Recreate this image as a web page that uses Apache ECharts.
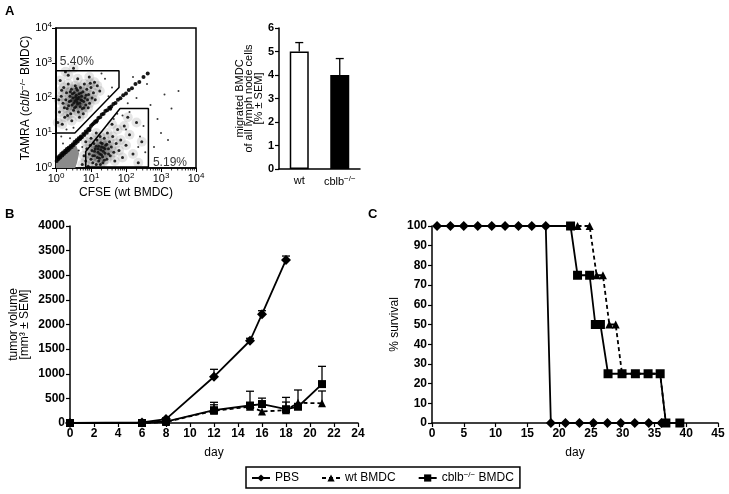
<!DOCTYPE html>
<html><head><meta charset="utf-8">
<script src="https://cdn.jsdelivr.net/npm/echarts@6/dist/echarts.min.js"></script>
<style>html,body{margin:0;padding:0;background:#fff}#c{width:729px;height:494px}</style>
</head><body><div id="c"></div>
<script>
// ---------- Panel A: flow cytometry events (log10 units) ----------
const upperCluster = [[0.10,1.60],[0.15,2.05],[0.20,1.85],[0.22,2.30],[0.25,1.45],[0.28,1.95],[0.30,2.15],[0.32,1.70],[0.35,2.40],[0.38,1.90],[0.40,2.05],[0.42,1.55],[0.44,2.25],[0.46,1.80],[0.48,2.00],[0.50,1.65],[0.52,2.15],[0.54,1.92],[0.55,2.35],[0.57,1.75],[0.58,2.08],[0.60,1.88],[0.61,2.22],[0.63,1.98],[0.64,1.60],[0.66,2.12],[0.68,1.85],[0.70,2.30],[0.71,1.95],[0.73,2.05],[0.75,1.70],[0.77,2.18],[0.79,1.90],[0.81,2.40],[0.83,2.00],[0.85,1.80],[0.88,2.25],[0.90,1.95],[0.93,2.10],[0.96,1.85],[1.00,2.30],[1.03,2.00],[1.07,2.15],[1.12,1.95],[1.18,2.35],[1.25,2.20],[0.05,1.30],[0.12,2.50],[0.18,1.25],[0.35,2.65],[0.45,1.35],[0.62,2.55],[0.78,1.55],[0.95,2.60],[1.10,2.45],[0.27,2.75],[0.50,2.85],[0.08,1.95],[0.33,1.50],[0.67,1.45],[0.36,1.78],[0.47,2.12],[0.53,1.72],[0.59,1.96],[0.65,2.02],[0.69,1.76],[0.74,1.93],[0.56,2.02],[0.43,1.92],[0.62,1.82],[0.72,2.14],[0.51,1.86],[0.41,2.18],[0.86,2.08],[0.58,2.28],[0.24,1.72],[0.16,2.22],[0.92,1.72],[0.98,2.42],[0.80,1.72]];
const lowerCluster = [[0.75,0.10],[0.80,0.35],[0.85,0.20],[0.88,0.55],[0.92,0.05],[0.95,0.40],[0.98,0.65],[1.00,0.25],[1.03,0.50],[1.05,0.15],[1.08,0.70],[1.10,0.35],[1.12,0.55],[1.15,0.10],[1.17,0.80],[1.20,0.45],[1.22,0.62],[1.24,0.28],[1.26,0.90],[1.28,0.52],[1.30,0.38],[1.32,0.70],[1.34,0.15],[1.36,0.58],[1.38,0.85],[1.40,0.42],[1.42,0.65],[1.45,0.25],[1.47,1.00],[1.50,0.55],[1.53,0.75],[1.55,0.35],[1.58,0.60],[1.62,0.90],[1.65,0.45],[1.68,0.20],[1.72,0.70],[1.76,1.10],[1.80,0.50],[1.85,0.80],[1.90,0.30],[1.95,1.20],[2.00,0.65],[2.10,0.95],[2.20,0.40],[2.30,1.30],[2.45,0.75],[1.15,1.00],[1.00,0.85],[0.85,0.75],[1.60,1.25],[2.05,1.45],[2.35,0.15],[1.20,0.55],[1.25,0.40],[1.30,0.60],[1.35,0.48],[1.18,0.30],[1.28,0.72],[1.40,0.55],[1.10,0.48],[1.33,0.32],[1.22,0.20],[1.45,0.68],[1.15,0.62],[1.38,0.22],[1.05,0.35],[1.50,0.40],[1.27,0.10]];
const diagStreak = [[0.02,0.20],[0.04,0.30],[0.07,0.26],[0.10,0.34],[0.12,0.30],[0.15,0.40],[0.18,0.36],[0.20,0.44],[0.23,0.41],[0.26,0.49],[0.28,0.45],[0.31,0.54],[0.34,0.50],[0.36,0.58],[0.39,0.55],[0.42,0.63],[0.45,0.60],[0.48,0.68],[0.50,0.65],[0.53,0.74],[0.56,0.71],[0.59,0.79],[0.62,0.76],[0.65,0.85],[0.68,0.82],[0.71,0.90],[0.74,0.88],[0.78,0.97],[0.81,0.94],[0.85,1.04],[0.88,1.01],[0.92,1.11],[0.96,1.13],[1.00,1.20],[1.04,1.24],[1.08,1.28],[1.12,1.33],[1.17,1.36],[1.21,1.43],[1.26,1.45],[1.31,1.53],[1.36,1.55],[1.41,1.63],[1.46,1.65],[1.52,1.72],[1.58,1.76],[1.64,1.83],[1.70,1.86],[1.77,1.95],[1.84,1.99],[1.92,2.08],[2.00,2.13],[2.08,2.23],[2.17,2.28],[2.27,2.40],[2.38,2.46],[2.50,2.60],[2.62,2.70],[1.55,1.69],[1.15,1.32],[0.95,1.08],[0.70,0.86]];
const sparseEvents = [[2.1,1.6],[2.3,2.0],[2.5,1.2],[2.7,1.8],[2.9,1.4],[3.1,2.1],[3.3,1.7],[3.5,2.2],[2.2,2.6],[2.6,2.4],[1.9,1.5],[2.0,1.1],[2.4,0.9],[2.8,0.6],[3.0,1.0],[1.6,2.3],[1.4,2.55],[1.3,2.7],[1.5,2.05],[2.05,1.85],[1.75,1.55],[1.65,1.40],[2.55,0.45],[2.35,0.6],[3.2,0.8],[0.3,1.1],[0.15,0.9],[0.5,1.15],[0.65,0.5],[0.75,0.6],[0.2,0.7],[0.4,0.85]];
const greyRegion = [[0,0],[0,0.28],[0.2,0.38],[0.4,0.52],[0.58,0.64],[0.66,0.42],[0.6,0.15],[0.55,0]];
const gateUpper = [[0,2.78],[1.8,2.78],[1.8,2.3],[0.54,1.0],[0,1.0],[0,2.78]];
const gateLower = [[0.85,0.03],[0.85,0.47],[1.83,1.7],[2.64,1.7],[2.64,0.03],[0.85,0.03]];
const gateLabels = [[0.11,3.03,'5.40%'],[2.77,0.14,'5.19%']];
const logDecades = [0,1,2,3,4];

// ---------- Panel A: migrated BMDC bars ----------
const barCategories = ['wt','cblb−/−'];
const barValues = [5.0, 4.0];
const barSem = [0.38, 0.70];

// ---------- Panel B: tumor volume ----------
const pbsDays = [0,6,8,12,15,16,18];
const pbsVol  = [0,10,80,940,1670,2210,3310];
const pbsSem  = [0,0,20,150,50,70,80];
const wtDays  = [0,6,8,12,15,16,18,19,21];
const wtVol   = [0,0,20,250,330,235,260,410,400];
const wtSem   = [0,0,0,120,0,0,165,260,250];
const koDays  = [0,6,8,12,15,16,18,19,21];
const koVol   = [0,0,30,260,355,385,280,330,790];
const koSem   = [0,0,0,160,290,120,240,0,360];

// ---------- Panel C: survival ----------
const pbsSurvDays = [0.8,2.9,5.0,7.2,9.4,11.5,13.6,15.7,17.9,18.7,21.0,23.2,25.4,27.6,29.7,31.9,34.1,36.1];
const pbsSurv     = [100,100,100,100,100,100,100,100,100,0,0,0,0,0,0,0,0,0];
const wtSurvDays  = [22.9,24.8,25.9,26.9,27.9,28.9,29.9,32.0,34.0,35.9,36.8,39.0];
const wtSurv      = [100,100,75,75,50,50,25,25,25,25,0,0];
const koSurvDays  = [0.8,21.8,22.9,24.8,25.7,26.5,27.7,29.9,32.0,34.0,35.9,36.8,39.0];
const koSurv      = [100,100,75,75,50,50,25,25,25,25,25,0,0];

const FONT = "'Liberation Sans', Arial, sans-serif";
const zip = (a, b) => a.map((v, i) => [v, b[i]]);
const zip3 = (a, b, c) => a.map((v, i) => [v, b[i], c[i]]);
const black = '#000';
const minorTickVals = [];
logDecades.slice(0, -1).forEach(n => { for (let k = 2; k <= 9; k++) minorTickVals.push(n + Math.log10(k)); });

function axisBase(extra) {
  return Object.assign({
    axisLine: { show: true, onZero: false, lineStyle: { color: black, width: 1.5 } },
    axisTick: { show: true, length: 4, inside: false, lineStyle: { color: black, width: 1.2 } },
    splitLine: { show: false },
    axisLabel: { color: black, fontFamily: FONT, fontSize: 12, fontWeight: 'bold', margin: 5, formatter: v => String(v) },
    nameTextStyle: { color: black, fontFamily: FONT, fontSize: 12 }
  }, extra);
}
const supRich = {
  s: { fontSize: 8, fontFamily: FONT, color: black, verticalAlign: 'top', padding: [0, 0, 6, 0] },
  i: { fontSize: 12, fontFamily: FONT, color: black, fontStyle: 'italic' }
};

function errRender(params, api) {
  const x = api.value(0), y = api.value(1), e = api.value(2);
  if (!e) return { type: 'group', children: [] };
  const b = api.coord([x, y]), t = api.coord([x, y + e]);
  return { type: 'group', children: [
    { type: 'line', shape: { x1: b[0], y1: b[1], x2: t[0], y2: t[1] }, style: { stroke: black, lineWidth: 1.3 } },
    { type: 'line', shape: { x1: t[0] - 4, y1: t[1], x2: t[0] + 4, y2: t[1] }, style: { stroke: black, lineWidth: 1.3 } }
  ] };
}

const chart = echarts.init(document.getElementById('c'), null, { renderer: 'canvas' });
const dotSeries = (data, size, color, op, z) => ({
  type: 'scatter', xAxisIndex: 0, yAxisIndex: 0, data, symbolSize: size, silent: true,
  itemStyle: { color: color, opacity: op }, clip: true, z: z || 3
});

const option = {
  animation: false,
  backgroundColor: '#fff',
  textStyle: { fontFamily: FONT, color: black },
  graphic: [
    { type: 'text', left: 5, top: 5, style: { text: 'A', font: "bold 13px 'Liberation Sans', Arial", fill: black } },
    { type: 'text', left: 5, top: 208, style: { text: 'B', font: "bold 13px 'Liberation Sans', Arial", fill: black } },
    { type: 'text', left: 368, top: 208, style: { text: 'C', font: "bold 13px 'Liberation Sans', Arial", fill: black } }
  ],
  legend: {
    left: 246, top: 467, orient: 'horizontal',
    padding: [4, 6, 4, 5], itemGap: 22, itemWidth: 18, itemHeight: 9,
    borderColor: black, borderWidth: 1.5, borderRadius: 0,
    data: ['PBS', 'wt BMDC', 'cblb−/− BMDC'],
    formatter: n => n.replace('−/−', '{s|−/−}'),
    textStyle: { fontFamily: FONT, fontSize: 12, color: black, rich: { s: { fontSize: 8, fontFamily: FONT, color: black, verticalAlign: 'top', padding: [0, 0, 6, 0] } } }
  },
  grid: [
    { left: 56, top: 28, width: 140, height: 140, show: true, borderColor: black, borderWidth: 1.5, backgroundColor: 'transparent' },
    { left: 279, top: 28, width: 81, height: 141 },
    { left: 70, top: 226, width: 288, height: 197 },
    { left: 432, top: 226, width: 286, height: 197 }
  ],
  xAxis: [
    axisBase({ gridIndex: 0, type: 'value', min: 0, max: 4, interval: 1,
      name: 'CFSE (wt BMDC)', nameLocation: 'middle', nameGap: 19,
      axisLabel: { color: black, fontFamily: FONT, fontSize: 11, margin: 4, formatter: v => '10{s|' + v + '}', rich: supRich },
      axisTick: { show: true, length: 4, lineStyle: { color: black, width: 1 } } }),
    axisBase({ gridIndex: 1, type: 'category', data: barCategories, boundaryGap: true,
      axisTick: { show: false },
      axisLabel: { color: black, fontFamily: FONT, fontSize: 11, margin: 6, interval: 0, hideOverlap: false, formatter: v => v.replace('−/−', '{s|−/−}'), rich: supRich } }),
    axisBase({ gridIndex: 2, type: 'value', min: 0, max: 24, interval: 2,
      name: 'day', nameLocation: 'middle', nameGap: 24 }),
    axisBase({ gridIndex: 3, type: 'value', min: 0, max: 45, interval: 5,
      name: 'day', nameLocation: 'middle', nameGap: 24 })
  ],
  yAxis: [
    axisBase({ gridIndex: 0, type: 'value', min: 0, max: 4, interval: 1,
      name: 'TAMRA ({i|cblb}{s|−/−} BMDC)', nameLocation: 'middle', nameGap: 23, nameRotate: 90,
      nameTextStyle: { color: black, fontFamily: FONT, fontSize: 12, rich: supRich },
      axisLabel: { color: black, fontFamily: FONT, fontSize: 11, margin: 4, formatter: v => '10{s|' + v + '}', rich: supRich },
      axisTick: { show: true, length: 4, lineStyle: { color: black, width: 1 } } }),
    axisBase({ gridIndex: 1, type: 'value', min: 0, max: 6, interval: 1,
      name: 'migrated BMDC\nof all lymph node cells\n[% ± SEM]', nameLocation: 'middle', nameGap: 13, nameRotate: 90,
      nameTextStyle: { color: black, fontFamily: FONT, fontSize: 11, lineHeight: 9.5 },
      axisLabel: { color: black, fontFamily: FONT, fontSize: 11, fontWeight: 'bold', margin: 5 } }),
    axisBase({ gridIndex: 2, type: 'value', min: 0, max: 4000, interval: 500,
      name: 'tumor volume\n[mm³ ± SEM]', nameLocation: 'middle', nameGap: 40, nameRotate: 90,
      nameTextStyle: { color: black, fontFamily: FONT, fontSize: 12, lineHeight: 11 } }),
    axisBase({ gridIndex: 3, type: 'value', min: 0, max: 100, interval: 10,
      name: '% survival', nameLocation: 'middle', nameGap: 31, nameRotate: 90 })
  ],
  series: [
    // Panel A scatter
    { type: 'custom', xAxisIndex: 0, yAxisIndex: 0, silent: true, data: [[0, 0]], z: 2,
      renderItem: (p, api) => ({ type: 'polygon', shape: { points: greyRegion.map(pt => api.coord(pt)) }, style: { fill: '#8a8a8a', stroke: null } }) },
    dotSeries(upperCluster, 10, '#000', 0.1, 1),
    dotSeries(lowerCluster, 10, '#000', 0.1, 1),
    dotSeries(upperCluster, 3, '#111', 0.9),
    dotSeries(lowerCluster, 3, '#111', 0.9),
    dotSeries(diagStreak, 4, '#000', 0.9),
    dotSeries(sparseEvents, 2, '#222', 0.9),
    { type: 'line', xAxisIndex: 0, yAxisIndex: 0, data: gateUpper, showSymbol: false, silent: true, z: 5,
      lineStyle: { color: black, width: 1.5 } },
    { type: 'line', xAxisIndex: 0, yAxisIndex: 0, data: gateLower, showSymbol: false, silent: true, z: 5,
      lineStyle: { color: black, width: 1.5 } },
    { type: 'scatter', xAxisIndex: 0, yAxisIndex: 0, data: gateLabels, symbolSize: 0, silent: true, z: 6,
      label: { show: true, position: 'right', distance: 0, formatter: p => p.data[2], fontFamily: FONT, fontSize: 12, color: black } },
    { type: 'custom', xAxisIndex: 0, yAxisIndex: 0, silent: true, data: minorTickVals.map(v => [v, 0]), z: 6,
      renderItem: (p, api) => { const c = api.coord([api.value(0), 0]); return { type: 'line', shape: { x1: c[0], y1: c[1], x2: c[0], y2: c[1] + 2.5 }, style: { stroke: black, lineWidth: 0.8 } }; } },
    // Panel A bars
    { type: 'bar', xAxisIndex: 1, yAxisIndex: 1, barWidth: 19,
      data: barValues.map((v, i) => ({ value: v, itemStyle: { color: i === 0 ? '#fff' : '#000', borderColor: black, borderWidth: 1.5 } })) },
    { type: 'custom', xAxisIndex: 1, yAxisIndex: 1, silent: true, z: 4,
      data: zip3(barValues.map((v, i) => i), barValues, barSem), renderItem: errRender },
    // Panel B
    { name: 'PBS', type: 'line', xAxisIndex: 2, yAxisIndex: 2, data: zip(pbsDays, pbsVol), symbol: 'diamond', symbolSize: 10, z: 4,
      lineStyle: { color: black, width: 1.8 }, itemStyle: { color: black } },
    { name: 'wt BMDC', type: 'line', xAxisIndex: 2, yAxisIndex: 2, data: zip(wtDays, wtVol), symbol: 'triangle', symbolSize: 8, z: 3,
      lineStyle: { color: black, width: 1.8, type: [4, 3] }, itemStyle: { color: black } },
    { name: 'cblb−/− BMDC', type: 'line', xAxisIndex: 2, yAxisIndex: 2, data: zip(koDays, koVol), symbol: 'rect', symbolSize: 8, z: 3,
      lineStyle: { color: black, width: 1.8 }, itemStyle: { color: black } },
    { type: 'custom', xAxisIndex: 2, yAxisIndex: 2, silent: true, data: zip3(pbsDays, pbsVol, pbsSem), renderItem: errRender, z: 2 },
    { type: 'custom', xAxisIndex: 2, yAxisIndex: 2, silent: true, data: zip3(wtDays, wtVol, wtSem), renderItem: errRender, z: 2 },
    { type: 'custom', xAxisIndex: 2, yAxisIndex: 2, silent: true, data: zip3(koDays, koVol, koSem), renderItem: errRender, z: 2 },
    // Panel C
    { name: 'wt BMDC', type: 'line', xAxisIndex: 3, yAxisIndex: 3, data: zip(wtSurvDays, wtSurv), symbol: 'triangle', symbolSize: 8, z: 3,
      lineStyle: { color: black, width: 1.8, type: [4, 3] }, itemStyle: { color: black } },
    { name: 'cblb−/− BMDC', type: 'line', xAxisIndex: 3, yAxisIndex: 3, symbol: 'rect', symbolSize: 9, z: 4,
      data: zip(koSurvDays, koSurv).map((d, i) => i === 0 ? { value: d, symbol: 'none' } : d),
      lineStyle: { color: black, width: 1.8 }, itemStyle: { color: black } },
    { name: 'PBS', type: 'line', xAxisIndex: 3, yAxisIndex: 3, data: zip(pbsSurvDays, pbsSurv), symbol: 'diamond', symbolSize: 10, z: 5,
      lineStyle: { color: black, width: 1.8 }, itemStyle: { color: black } }
  ]
};
chart.setOption(option);
</script>
</body></html>
